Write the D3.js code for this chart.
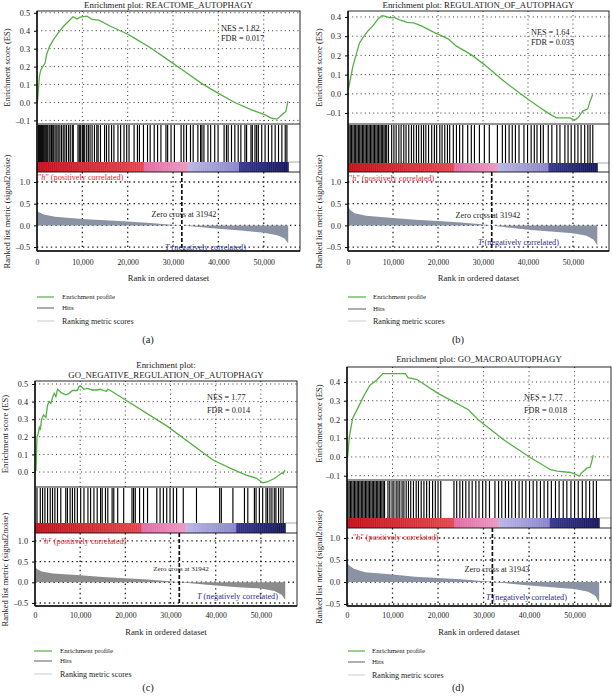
<!DOCTYPE html>
<html><head><meta charset="utf-8">
<script src="https://cdn.jsdelivr.net/npm/d3@7"></script>
<style>body{margin:0;background:#fff} text{font-family:"Liberation Serif","Times New Roman",serif;fill:#222}</style>
</head><body><svg id="c" width="612" height="699"></svg>
<script>
// ---------- data ----------
const rankTicks = [0, 10000, 20000, 30000, 40000, 50000];
const metricTicks = [-0.5, 0.0, 0.5, 1.0];
const titles = [["Enrichment plot: REACTOME_AUTOPHAGY"], ["Enrichment plot: REGULATION_OF_AUTOPHAGY"], ["Enrichment plot:", "GO_NEGATIVE_REGULATION_OF_AUTOPHAGY"], ["Enrichment plot: GO_MACROAUTOPHAGY"]];
const nesValues = ["1.82", "1.64", "1.77", "1.77"];
const fdrValues = ["0.017", "0.035", "0.014", "0.018"];
const zeroCross = [31942, 31942, 31942, 31943];
const panelLetters = ["(a)", "(b)", "(c)", "(d)"];
const legendLabels = ["Enrichment profile", "Hits", "Ranking metric scores"];
const nGenes = 55400;
const colorBreaks = [23500, 33300, 44500];

const esTicksA = [-0.1, 0.0, 0.1, 0.2, 0.3, 0.4, 0.5];
const esTicksB = [-0.1, 0.0, 0.1, 0.2, 0.3, 0.4];
const esTicksC = [0.0, 0.1, 0.2, 0.3, 0.4, 0.5];
const esTicksD = [-0.1, 0.0, 0.1, 0.2, 0.3, 0.4];

const esA = [[0,0],[150,0.015],[520,0.145],[815,0.18],[1260,0.2],[1780,0.22],[2150,0.27],[2740,0.31],[3630,0.35],[4740,0.39],[5850,0.425],[6960,0.453],[7930,0.478],[8815,0.466],[9560,0.476],[11040,0.481],[12150,0.463],[13630,0.459],[16220,0.425],[19930,0.382],[21400,0.36],[25100,0.304],[28800,0.239],[32500,0.174],[36200,0.108],[39900,0.052],[43600,0.0],[47300,-0.041],[50300,-0.069],[51800,-0.088],[52900,-0.093],[53600,-0.078],[54370,-0.06],[54900,-0.05],[55330,0.008]];
const esB = [[0,0.02],[146,0.031],[1095,0.144],[2555,0.265],[3285,0.291],[4380,0.326],[5475,0.352],[6570,0.386],[7520,0.407],[8390,0.403],[9270,0.395],[10220,0.398],[11680,0.383],[13140,0.372],[14600,0.369],[16420,0.352],[19340,0.317],[22260,0.286],[24090,0.248],[27370,0.204],[30290,0.152],[34670,0.066],[38320,0.0],[41970,-0.061],[44890,-0.107],[46350,-0.125],[49270,-0.125],[50360,-0.137],[51100,-0.125],[52190,-0.09],[53280,-0.078],[53800,-0.038],[54380,-0.003]];
const esC = [[0,0],[220,0.01],[440,0.2],[730,0.22],[950,0.254],[1170,0.239],[1465,0.3],[1900,0.324],[2420,0.31],[2780,0.38],[3150,0.40],[3520,0.39],[3880,0.424],[4250,0.447],[4620,0.428],[4980,0.47],[5350,0.463],[5710,0.452],[6810,0.439],[7550,0.447],[8280,0.463],[9380,0.463],[9740,0.485],[10100,0.488],[10840,0.47],[11570,0.475],[12670,0.466],[13770,0.466],[14500,0.47],[15240,0.463],[15820,0.458],[16120,0.47],[16700,0.463],[29160,0.262],[39400,0.068],[43800,0.015],[46740,-0.017],[48940,-0.034],[50400,-0.061],[51500,-0.055],[52970,-0.037],[54070,-0.017],[54650,-0.004],[54950,-0.01],[55240,0.008],[55380,0.004]];
const esD = [[0,0],[145,0.0],[510,0.107],[1230,0.205],[2320,0.258],[3770,0.329],[5000,0.382],[6670,0.413],[7900,0.445],[12830,0.445],[13400,0.423],[15360,0.413],[20070,0.338],[26590,0.253],[28770,0.2],[34560,0.089],[40360,-0.004],[44710,-0.068],[46160,-0.076],[49060,-0.083],[50140,-0.092],[51090,-0.103],[51380,-0.089],[52680,-0.06],[53410,-0.055],[53700,-0.03],[54100,0.01]];

const hitsA = [300,520,740,960,1180,1400,1700,1930,2150,2370,2670,2890,3190,3480,3700,4000,4370,4670,5040,5410,5780,6150,6520,6960,7330,7780,8000,9040,9330,9630,10000,10220,10520,10960,11330,11700,12150,12670,13190,13480,14000,14900,15330,15850,16440,16960,17850,18440,19190,19780,20300,21410,22150,22590,23480,24370,24960,25850,26590,27330,28440,28810,29560,30300,31780,32370,32960,33850,34440,35480,36070,36370,36810,37700,38300,39190,39930,41260,41780,42150,42890,43630,44370,44960,45850,46220,47190,47480,48070,48440,48810,49560,50300,51040,51780,52520,53260,54000,54740,55110];
const hitsB = [200,500,800,1100,1400,1700,2000,2300,2600,2900,3200,3500,3800,4100,4400,4700,5000,5300,5600,5900,6200,6500,6800,7100,7400,7700,8000,8300,8600,9000,9700,10200,10700,11300,11800,12400,12900,13500,14100,14600,15200,15700,16300,16800,17300,17900,18600,19200,19700,20400,20900,21500,22100,22600,23400,24100,24800,25500,26600,27400,28100,29200,30300,31400,33200,34300,35000,35800,36500,37200,38000,39100,39900,40700,41400,42000,42800,43400,44500,45300,46400,47100,48200,48900,49600,50400,51100,51800,52600,53300,53800,54400];
const hitsC = [440,1170,1680,2200,2780,3370,3880,4400,4980,5710,6810,7180,7770,8280,8790,9380,10110,10840,11720,12310,13040,13770,14510,14870,15600,16120,17070,17440,18310,19630,21470,21830,22200,23150,24030,24910,26960,27690,28420,29160,29890,30620,31350,32820,35750,40880,41250,43810,46370,47110,48570,48940,49670,50400,51140,51500,52010,52450,52970,53330,53920,54430,54940];
const hitsD = [150,450,750,1050,1350,1650,1950,2250,2550,2850,3150,3450,3750,4050,4350,4650,4950,5250,5550,5850,6150,6450,6750,7050,7350,7650,7950,8250,9000,9400,9900,10300,10800,11200,11600,12100,12500,13000,13500,14000,14600,15200,15700,16300,16900,17500,18100,18800,19400,20000,20600,23500,24100,24800,25400,26100,26800,27500,28300,29000,29800,30500,31300,32500,33300,34000,34800,35500,36200,37000,37800,38500,39300,40100,40900,41700,42500,43300,44100,44900,45800,46600,47500,48300,49200,50000,50800,51700,52500,53300,54100,54800];

const metricA = [[0,0.37],[300,0.31],[1500,0.25],[4000,0.2],[10000,0.15],[15000,0.12],[20000,0.09],[25000,0.055],[29000,0.02],[31942,0],[35000,-0.03],[40000,-0.08],[45000,-0.12],[50000,-0.17],[53000,-0.23],[54600,-0.3],[55400,-0.42]];
const metricB = [[0,0.45],[400,0.36],[1500,0.28],[4000,0.22],[10000,0.17],[15000,0.13],[20000,0.1],[25000,0.065],[29000,0.03],[31942,0],[35000,-0.04],[40000,-0.1],[45000,-0.14],[50000,-0.18],[53000,-0.24],[54600,-0.33],[55400,-0.46]];
const metricC = [[0,0.38],[400,0.32],[1500,0.26],[4000,0.21],[10000,0.17],[15000,0.13],[20000,0.1],[25000,0.065],[29000,0.03],[31942,0],[35000,-0.03],[40000,-0.08],[45000,-0.12],[50000,-0.15],[53000,-0.21],[54600,-0.3],[55400,-0.42]];
const metricD = [[0,0.48],[400,0.38],[1500,0.3],[4000,0.22],[10000,0.17],[15000,0.12],[20000,0.09],[25000,0.06],[29000,0.03],[31942,0],[35000,-0.03],[40000,-0.08],[45000,-0.12],[50000,-0.16],[53000,-0.22],[54600,-0.32],[55400,-0.47]];

// ---------- layout ----------
const panels = [
  {es: esA, esTicks: esTicksA, hits: hitsA, metric: metricA, fill: "#8a92a4",
   L: 37, R: 300, esTop: 11, esBot: 124, hitBot: 162, cbBot: 172, rkBot: 251,
   esDom: [-0.12, 0.51], rkDom: [-0.59, 1.23], ylx: 7,
   titleY: [5], nes: [221, 28, 38], h: [38, 177], T: [165, 247], zero: [184, 214],
   tickY: 262, axY: 278, legY: [297, 308, 321], legX: [37, 54, 62], letter: [148, 339]},
  {es: esB, esTicks: esTicksB, hits: hitsB, metric: metricB, fill: "#8a92a4",
   L: 348, R: 609, esTop: 11, esBot: 124, hitBot: 163, cbBot: 172, rkBot: 251,
   esDom: [-0.157, 0.431], rkDom: [-0.59, 1.23], ylx: 319,
   titleY: [5], nes: [531, 32, 42], h: [349, 178], T: [478, 242], zero: [488, 215],
   tickY: 262, axY: 278, legY: [297, 309, 321], legX: [348, 366, 373], letter: [458, 339]},
  {es: esC, esTicks: esTicksC, hits: hitsC, metric: metricC, fill: "#8c8c8c",
   L: 35, R: 297, esTop: 381, esBot: 487, hitBot: 523, cbBot: 533, rkBot: 606,
   esDom: [-0.085, 0.517], rkDom: [-0.573, 1.19], ylx: 5,
   titleY: [365, 375], nes: [207, 397, 410], h: [41, 541], T: [197, 596], zero: [181, 569],
   tickY: 615, axY: 632, legY: [651, 661, 674], legX: [34, 52, 60], letter: [148, 687]},
  {es: esD, esTicks: esTicksD, hits: hitsD, metric: metricD, fill: "#8a92a4",
   L: 347, R: 611, esTop: 367, esBot: 480, hitBot: 518, cbBot: 528, rkBot: 606,
   esDom: [-0.123, 0.48], rkDom: [-0.545, 1.227], ylx: 319,
   titleY: [359], nes: [524, 397, 410], h: [353, 537], T: [486, 597], zero: [497, 569],
   tickY: 615, axY: 632, legY: [651, 662, 675], legX: [348, 365, 372], letter: [458, 687]}
];

const segColors = [["#c40d18", "#e4454b"], ["#e06aa4", "#ec98c0"], ["#b9b5e4", "#8883cc"], ["#36368e", "#15155a"]];
const svg = d3.select("#c");
const fmt = d => (d < 0 ? "\u2013" : "") + Math.abs(d).toFixed(1);

panels.forEach((p, i) => {
  const g = svg.append("g");
  const x = d3.scaleLinear().domain([0, 58000]).range([p.L, p.R]);
  const yE = d3.scaleLinear().domain(p.esDom).range([p.esBot, p.esTop]);
  const yR = d3.scaleLinear().domain(p.rkDom).range([p.rkBot, p.cbBot]);

  // title
  titles[i].forEach((t, k) => g.append("text").attr("x", (p.L + p.R) / 2).attr("y", p.titleY[k]).attr("dy", ".35em")
    .attr("text-anchor", "middle").attr("font-size", 8.8).text(t));

  // ES grid
  const gridE = g.append("g").attr("stroke", "#333").attr("stroke-dasharray", "1,3.2").attr("stroke-width", 1);
  p.esTicks.forEach(t => gridE.append("line").attr("x1", p.L).attr("x2", p.R).attr("y1", yE(t)).attr("y2", yE(t)));
  rankTicks.slice(1).forEach(t => gridE.append("line").attr("x1", x(t)).attr("x2", x(t)).attr("y1", p.esTop).attr("y2", p.esBot));

  // ES curve
  g.append("path").datum(p.es).attr("fill", "none").attr("stroke", "#55b044").attr("stroke-width", 1.3)
    .attr("d", d3.line().x(d => x(d[0])).y(d => yE(d[1])));

  // ES axis
  g.append("g").attr("transform", `translate(${p.L},0)`)
    .call(d3.axisLeft(yE).tickValues(p.esTicks).tickFormat(fmt).tickSize(3).tickPadding(4))
    .call(a => { a.select(".domain").remove(); a.selectAll("text").attr("font-size", 8.2).attr("font-family", "Liberation Serif").attr("fill", "#222"); });

  // NES/FDR
  g.append("text").attr("x", p.nes[0]).attr("y", p.nes[1]).attr("dy", ".35em").attr("font-size", 8.2).text("NES = " + nesValues[i]);
  g.append("text").attr("x", p.nes[0]).attr("y", p.nes[2]).attr("dy", ".35em").attr("font-size", 8.2).text("FDR = " + fdrValues[i]);

  // hits
  g.append("g").selectAll("line").data(p.hits).join("line")
    .attr("x1", d => x(d)).attr("x2", d => x(d)).attr("y1", p.esBot + 1).attr("y2", p.hitBot)
    .attr("stroke", "#000").attr("stroke-width", 1.15);

  // colour bar
  const cb = g.append("g");
  const step = 150;
  for (let r = 0; r < nGenes; r += step) {
    const s = d3.bisect(colorBreaks, r);
    const s0 = s === 0 ? 0 : colorBreaks[s - 1];
    const s1 = s === colorBreaks.length ? nGenes : colorBreaks[s];
    const t = (r - s0) / (s1 - s0);
    cb.append("rect").attr("x", x(r)).attr("y", p.hitBot).attr("width", x(Math.min(r + step, nGenes)) - x(r) + 0.4)
      .attr("height", p.cbBot - p.hitBot).attr("fill", d3.interpolateRgb(segColors[s][0], segColors[s][1])(t));
  }
  g.append("line").attr("x1", x(nGenes)).attr("x2", p.R).attr("y1", p.hitBot).attr("y2", p.hitBot).attr("stroke", "#888").attr("stroke-width", 0.7);

  // ranked metric grid
  const gridR = g.append("g").attr("stroke", "#222").attr("stroke-dasharray", "1.4,3.2").attr("stroke-width", 1.3);
  metricTicks.forEach(t => gridR.append("line").attr("x1", p.L).attr("x2", p.R).attr("y1", yR(t)).attr("y2", yR(t)));
  rankTicks.slice(1).forEach(t => gridR.append("line").attr("x1", x(t)).attr("x2", x(t)).attr("y1", p.cbBot).attr("y2", p.rkBot));

  // metric area
  g.append("path").datum(p.metric).attr("fill", p.fill)
    .attr("d", d3.area().x(d => x(d[0])).y0(yR(0)).y1(d => yR(d[1])));

  // zero-cross line
  g.append("line").attr("x1", x(zeroCross[i])).attr("x2", x(zeroCross[i])).attr("y1", p.cbBot).attr("y2", p.rkBot)
    .attr("stroke", "#111").attr("stroke-width", 1.7).attr("stroke-dasharray", "4,2");

  // ranked labels
  g.append("text").attr("x", p.h[0]).attr("y", p.h[1]).attr("dy", ".35em").attr("font-size", 8.2).style("fill", "#e3262e")
    .html('"<tspan font-style="italic">h</tspan>" (positively correlated)');
  g.append("text").attr("x", p.T[0]).attr("y", p.T[1]).attr("dy", ".35em").attr("font-size", 8.2).style("fill", "#2a2a8a")
    .html('<tspan font-style="italic">T</tspan> (negatively correlated)');
  g.append("text").attr("x", p.zero[0]).attr("y", p.zero[1]).attr("dy", ".35em").attr("text-anchor", "middle")
    .attr("font-size", i === 2 ? 7 : 8.2).text("Zero cross at " + zeroCross[i]);

  // ranked axis
  g.append("g").attr("transform", `translate(${p.L},0)`)
    .call(d3.axisLeft(yR).tickValues(metricTicks).tickFormat(fmt).tickSize(3).tickPadding(4))
    .call(a => { a.select(".domain").remove(); a.selectAll("text").attr("font-size", 8.2).attr("font-family", "Liberation Serif").attr("fill", "#222"); });

  // x axis
  g.append("g").attr("transform", `translate(0,${p.rkBot})`)
    .call(d3.axisBottom(x).tickValues(rankTicks).tickFormat(d3.format(",")).tickSize(0).tickPadding(0))
    .call(a => { a.select(".domain").remove(); a.selectAll("text").attr("y", p.tickY - p.rkBot).attr("dy", ".35em").attr("font-size", 7.8).attr("font-family", "Liberation Serif").attr("fill", "#222"); });

  // frames
  const fr = g.append("g").attr("fill", "none").attr("stroke", "#111");
  fr.append("rect").attr("x", p.L).attr("y", p.esTop).attr("width", p.R - p.L).attr("height", p.rkBot - p.esTop).attr("stroke-width", 0.9);
  fr.append("line").attr("x1", p.L).attr("x2", p.R).attr("y1", p.esBot).attr("y2", p.esBot).attr("stroke-width", 0.9);
  fr.append("line").attr("x1", p.L).attr("x2", p.R).attr("y1", p.cbBot).attr("y2", p.cbBot).attr("stroke-width", 0.9);
  fr.append("line").attr("x1", p.L).attr("x2", p.L).attr("y1", p.esTop).attr("y2", p.rkBot).attr("stroke-width", 1.5);
  fr.append("line").attr("x1", p.L).attr("x2", p.R).attr("y1", p.rkBot).attr("y2", p.rkBot).attr("stroke-width", 1.5);

  // y axis titles
  g.append("text").attr("transform", `translate(${p.ylx},${(p.esTop + p.esBot) / 2}) rotate(-90)`).attr("dy", ".35em")
    .attr("text-anchor", "middle").attr("font-size", 8.6).text("Enrichment score (ES)");
  g.append("text").attr("transform", `translate(${p.ylx},${(p.cbBot + p.rkBot) / 2}) rotate(-90)`).attr("dy", ".35em")
    .attr("text-anchor", "middle").attr("font-size", 8.6).text("Ranked list metric (signal2noise)");

  // x axis title
  g.append("text").attr("x", (p.L + p.R) / 2).attr("y", p.axY).attr("dy", ".35em").attr("text-anchor", "middle")
    .attr("font-size", 8.6).text("Rank in ordered dataset");

  // legend
  const legCol = ["#55b044", "#777", "#d4d4d4"];
  const legSize = [7, 7, 8];
  legendLabels.forEach((lab, k) => {
    g.append("line").attr("x1", p.legX[0]).attr("x2", p.legX[1]).attr("y1", p.legY[k]).attr("y2", p.legY[k])
      .attr("stroke", legCol[k]).attr("stroke-width", 1.2);
    g.append("text").attr("x", p.legX[2]).attr("y", p.legY[k]).attr("dy", ".35em").attr("font-size", legSize[k]).text(lab);
  });

  // panel letter
  g.append("text").attr("x", p.letter[0]).attr("y", p.letter[1]).attr("dy", ".35em").attr("text-anchor", "middle")
    .attr("font-size", 10.5).text(panelLetters[i]);
});
</script></body></html>
